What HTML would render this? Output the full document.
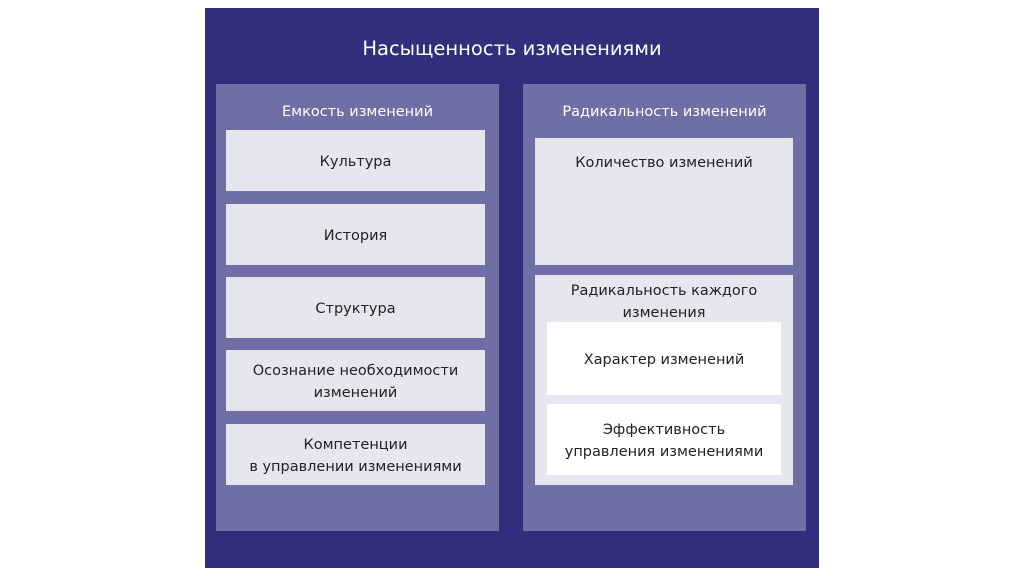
<!DOCTYPE html>
<html><head><meta charset="utf-8"><style>
body{margin:0;width:1024px;height:576px;background:#fff;position:relative;overflow:hidden;font-family:"DejaVu Sans","Liberation Sans",sans-serif;}
div{position:absolute;box-sizing:border-box;}
.t{display:flex;align-items:center;justify-content:center;text-align:center;color:#222;font-size:14.5px;line-height:22px;padding-top:3px;}
.g{background:#e6e6ee;}
.w{background:#fff;}
</style></head><body>
<div style="left:205px;top:8px;width:614px;height:560px;background:#2f2f7b;"></div>
<div class="t" style="left:205px;top:32px;width:614px;height:30px;color:#fff;font-size:19.5px;">Насыщенность изменениями</div>
<div style="left:216px;top:84px;width:283px;height:447px;background:#6f6fa5;"></div>
<div style="left:523px;top:84px;width:283px;height:447px;background:#6f6fa5;"></div>
<div class="t" style="left:216px;top:98px;width:283px;height:24px;color:#fff;">Емкость изменений</div>
<div class="t" style="left:523px;top:98px;width:283px;height:24px;color:#fff;">Радикальность изменений</div>
<div class="t g" style="left:226px;top:130px;width:259px;height:61px;">Культура</div>
<div class="t g" style="left:226px;top:204px;width:259px;height:61px;">История</div>
<div class="t g" style="left:226px;top:277px;width:259px;height:61px;">Структура</div>
<div class="t g" style="left:226px;top:350px;width:259px;height:61px;">Осознание необходимости<br>изменений</div>
<div class="t g" style="left:226px;top:424px;width:259px;height:61px;">Компетенции<br>в управлении изменениями</div>
<div class="g" style="left:535px;top:138px;width:258px;height:127px;"></div>
<div class="t" style="left:535px;top:149px;width:258px;height:24px;">Количество изменений</div>
<div class="g" style="left:535px;top:275px;width:258px;height:210px;"></div>
<div class="t" style="left:535px;top:278px;width:258px;height:44px;">Радикальность каждого<br>изменения</div>
<div class="t w" style="left:547px;top:322px;width:234px;height:73px;">Характер изменений</div>
<div class="t w" style="left:547px;top:404px;width:234px;height:71px;">Эффективность<br>управления изменениями</div>
</body></html>
